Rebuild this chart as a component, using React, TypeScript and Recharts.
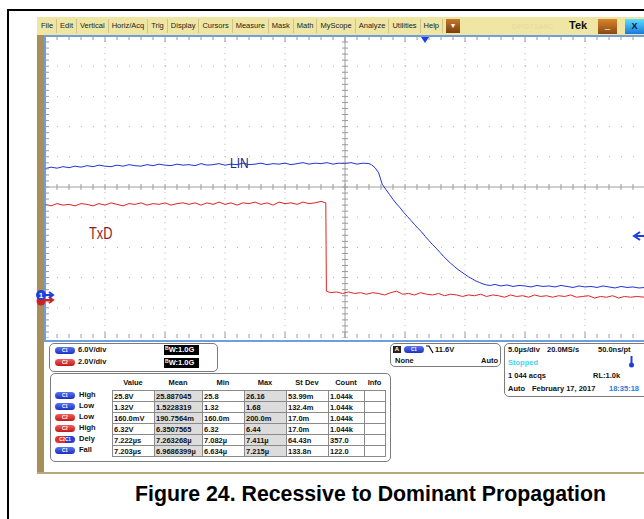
import React from "react";
import { ComposedChart, Line, XAxis, YAxis, ReferenceLine, Scatter } from "recharts";

// LIN (C1) trace, [time µs, volts]
const LIN: [number, number][] = [
  [-25, 25.1], [-24.5, 25.4], [-24, 25.2], [-23.5, 25.5], [-23, 25.3], [-22.5, 25.6], [-22, 25.4], [-21.5, 25.7],
  [-21, 25.5], [-20.5, 25.8], [-20, 25.6], [-19.5, 25.5], [-19, 25.8], [-18.5, 25.6], [-18, 25.9], [-17.5, 25.7],
  [-17, 25.6], [-16.5, 25.9], [-16, 25.7], [-15.5, 26.0], [-15, 25.8], [-14.5, 25.7], [-14, 26.0], [-13.5, 25.8],
  [-13, 25.9], [-12.5, 25.7], [-12, 26.1], [-11.5, 25.8], [-11, 25.9], [-10.5, 26.1], [-10, 25.8], [-9.5, 26.0],
  [-9, 25.9], [-8.5, 26.2], [-8, 25.9], [-7.5, 26.0], [-7, 26.2], [-6.5, 25.9], [-6, 26.1], [-5.5, 26.0],
  [-5, 26.2], [-4.5, 25.9], [-4, 26.1], [-3.5, 26.3], [-3, 26.0], [-2.5, 26.2], [-2, 26.1], [-1.5, 26.3],
  [-1, 26.0], [-0.5, 26.2], [0, 26.1], [0.5, 26.3], [1, 26.0], [1.5, 26.2], [2, 26.1],
  [2.2, 25.9], [2.5, 25.3], [2.8, 24.3], [3.1, 22.0], [3.4, 21.0], [3.7, 20.0], [4.0, 19.0], [4.3, 18.1],
  [4.6, 17.3], [4.9, 16.4], [5.2, 15.6], [5.5, 14.8], [5.8, 14.0], [6.1, 13.2], [6.4, 12.5], [6.7, 11.6],
  [7.0, 10.8], [7.3, 10.0], [7.6, 9.3], [7.9, 8.5], [8.2, 7.7], [8.5, 7.0], [8.8, 6.3], [9.1, 5.7],
  [9.4, 5.1], [9.7, 4.6], [10.0, 4.1], [10.3, 3.6], [10.6, 3.2], [10.9, 2.8], [11.2, 2.5], [11.5, 2.2],
  [11.8, 2.0], [12.1, 1.9], [12.5, 2.1], [13, 1.8], [13.5, 2.0], [14, 1.7], [14.5, 1.9], [15, 1.8],
  [15.5, 1.6], [16, 1.9], [16.5, 1.7], [17, 1.8], [17.5, 1.6], [18, 1.9], [18.5, 1.7], [19, 1.5],
  [19.5, 1.8], [20, 1.6], [20.5, 1.7], [21, 1.5], [21.5, 1.8], [22, 1.6], [22.5, 1.4], [23, 1.7],
  [23.5, 1.5], [24, 1.6], [24.5, 1.4], [25, 1.5],
];

// TxD (C2) trace, [time µs, volts]
const TXD: [number, number][] = [
  [-25, 6.2], [-24.5, 6.1], [-24, 6.25], [-23.5, 6.15], [-23, 6.2], [-22.5, 6.1], [-22, 6.25], [-21.5, 6.2],
  [-21, 6.1], [-20.5, 6.25], [-20, 6.15], [-19.5, 6.3], [-19, 6.2], [-18.5, 6.1], [-18, 6.25], [-17.5, 6.2],
  [-17, 6.3], [-16.5, 6.15], [-16, 6.25], [-15.5, 6.2], [-15, 6.3], [-14.5, 6.15], [-14, 6.25], [-13.5, 6.3],
  [-13, 6.2], [-12.5, 6.3], [-12, 6.15], [-11.5, 6.3], [-11, 6.2], [-10.5, 6.35], [-10, 6.2], [-9.5, 6.3],
  [-9, 6.15], [-8.5, 6.3], [-8, 6.25], [-7.5, 6.35], [-7, 6.2], [-6.5, 6.3], [-6, 6.15], [-5.5, 6.35],
  [-5, 6.25], [-4.5, 6.3], [-4, 6.2], [-3.5, 6.35], [-3, 6.25], [-2.5, 6.3], [-2, 6.4], [-1.6, 6.3],
  [-1.55, 0.45], [-1.2, 0.35], [-0.7, 0.4], [-0.2, 0.3], [0.3, 0.4], [0.8, 0.3], [1.3, 0.35], [1.8, 0.25],
  [2.3, 0.35], [2.8, 0.3], [3.3, 0.2], [3.8, 0.35], [4.3, 0.45], [4.8, 0.25], [5.3, 0.3], [5.8, 0.2],
  [6.3, 0.35], [6.8, 0.25], [7.3, 0.2], [7.8, 0.3], [8.3, 0.15], [8.8, 0.25], [9.3, 0.2], [9.8, 0.1],
  [10.3, 0.2], [10.8, 0.15], [11.3, 0.25], [11.8, 0.1], [12.3, 0.2], [12.8, 0.15], [13.3, 0.05], [13.8, 0.2],
  [14.3, 0.1], [14.8, 0.15], [15.3, 0.05], [15.8, 0.2], [16.3, 0.1], [16.8, 0.15], [17.3, 0.05], [17.8, 0.15],
  [18.3, 0.1], [18.8, 0.2], [19.3, 0.05], [19.8, 0.1], [20.3, 0.15], [20.8, 0.0], [21.3, 0.1], [21.8, 0.05],
  [22.3, 0.15], [22.8, 0.0], [23.3, 0.1], [23.8, 0.05], [24.3, 0.1], [25, 0.05],
];

// graticule: 10 x 10 divisions, 5 µs/div horizontally
const MAJOR_T = [-20, -15, -10, -5, 5, 10, 15, 20];
const MAJOR_DIV = [-4, -3, -2, -1, 1, 2, 3, 4];
const MINOR_T = [
  -25, -24, -23, -22, -21, -20, -19, -18, -17, -16, -15, -14, -13, -12, -11, -10, -9, -8, -7, -6, -5, -4, -3, -2, -1,
  0, 1, 2, 3, 4, 5, 6, 7, 8, 9, 10, 11, 12, 13, 14, 15, 16, 17, 18, 19, 20, 21, 22, 23, 24, 25,
];
const MINOR_DIV = [
  -5, -4.8, -4.6, -4.4, -4.2, -4, -3.8, -3.6, -3.4, -3.2, -3, -2.8, -2.6, -2.4, -2.2, -2, -1.8, -1.6, -1.4, -1.2,
  -1, -0.8, -0.6, -0.4, -0.2, 0, 0.2, 0.4, 0.6, 0.8, 1, 1.2, 1.4, 1.6, 1.8, 2, 2.2, 2.4, 2.6, 2.8, 3, 3.2, 3.4,
  3.6, 3.8, 4, 4.2, 4.4, 4.6, 4.8, 5,
];

const MENU = ["File", "Edit", "Vertical", "Horiz/Acq", "Trig", "Display", "Cursors", "Measure", "Mask", "Math", "MyScope", "Analyze", "Utilities", "Help"];

const HEADERS = ["Value", "Mean", "Min", "Max", "St Dev", "Count", "Info"];
const COL_W = [42, 48, 42, 42, 42, 36, 21];
const ROW_SRC = ["C1", "C1", "C2", "C2", "C2C1", "C1"];
const ROW_LABEL = ["High", "Low", "Low", "High", "Dely", "Fall"];
const ROW_VALUES = [
  ["25.8V", "25.887045", "25.8", "26.16", "53.99m", "1.044k", ""],
  ["1.32V", "1.5228319", "1.32", "1.68", "132.4m", "1.044k", ""],
  ["160.0mV", "190.7564m", "160.0m", "200.0m", "17.0m", "1.044k", ""],
  ["6.32V", "6.3507565", "6.32", "6.44", "17.0m", "1.044k", ""],
  ["7.222µs", "7.263268µ", "7.082µ", "7.411µ", "64.43n", "357.0", ""],
  ["7.203µs", "6.9686399µ", "6.634µ", "7.215µ", "133.8n", "122.0", ""],
];

const linData = LIN.map(([t, v]) => ({ t, v }));
const txdData = TXD.map(([t, v]) => ({ t, v }));

const FONT = "'Liberation Sans', Arial, sans-serif";
const BLUE = "#2233d8";
const RED = "#e02424";

const Pill = ({ src, x, y }: { src: string; x: number; y: number }) => {
  const bg =
    src === "C1"
      ? "linear-gradient(#5a74f0, #1c30c0)"
      : src === "C2"
      ? "linear-gradient(#f06060, #c01818)"
      : "linear-gradient(90deg, #e03030 0%, #e03030 50%, #2a40d0 51%, #2a40d0 100%)";
  return (
    <div
      style={{
        position: "absolute",
        left: x,
        top: y,
        width: 20,
        height: 7,
        borderRadius: 4,
        background: bg,
        color: "#fff",
        fontSize: 4.5,
        lineHeight: "7px",
        textAlign: "center",
        fontWeight: "bold",
      }}
    >
      {src}
    </div>
  );
};

const abs = (left: number, top: number, extra: React.CSSProperties = {}): React.CSSProperties => ({
  position: "absolute",
  left,
  top,
  whiteSpace: "nowrap",
  ...extra,
});

export default function App() {
  const tickV = (len: number) => (p: any) =>
    <line x1={p.cx} y1={p.cy - len} x2={p.cx} y2={p.cy + len} stroke="#9a9a9a" strokeWidth={1} />;
  const tickH = (len: number) => (p: any) =>
    <line x1={p.cx - len} y1={p.cy} x2={p.cx + len} y2={p.cy} stroke="#9a9a9a" strokeWidth={1} />;
  const tickTop = (p: any) => {
    const len = p.payload && p.payload.t % 5 === 0 ? 6 : 4;
    return <line x1={p.cx} y1={p.cy} x2={p.cx} y2={p.cy + len} stroke="#9a9a9a" strokeWidth={1} />;
  };
  const tickBottom = (p: any) => {
    const len = p.payload && p.payload.t % 5 === 0 ? 6 : 4;
    return <line x1={p.cx} y1={p.cy - len} x2={p.cx} y2={p.cy} stroke="#9a9a9a" strokeWidth={1} />;
  };
  const tickLeft = (p: any) => <line x1={p.cx} y1={p.cy} x2={p.cx + 4} y2={p.cy} stroke="#9a9a9a" strokeWidth={1} />;

  const menuText: React.CSSProperties = { fontSize: 7.5, color: "#222" };
  const small: React.CSSProperties = { fontSize: 7.5, fontWeight: "bold", color: "#111" };
  const bwBox: React.CSSProperties = {
    ...small,
    background: "#000",
    color: "#fff",
    width: 34,
    height: 10,
    lineHeight: "10px",
    display: "flex",
    alignItems: "flex-start",
    paddingLeft: 1,
  };

  return (
    <div style={{ position: "absolute", left: 0, top: 0, width: 644, height: 519, overflow: "hidden", background: "#fff", fontFamily: FONT }}>
      {/* outer figure border */}
      <div style={{ position: "absolute", left: 7, top: 9, width: 700, height: 600, borderLeft: "2px solid #000", borderTop: "2px solid #000" }} />

      {/* scope frame */}
      <div style={{ position: "absolute", left: 37, top: 17, width: 620, height: 18, background: "#efe6a4" }} />
      <div style={{ position: "absolute", left: 37, top: 35, width: 7, height: 439, background: "#a88e58" }} />
      <div style={{ position: "absolute", left: 37, top: 472, width: 620, height: 2, background: "#b9a977" }} />

      {/* menu */}
      <div style={{ position: "absolute", left: 38, top: 19, height: 14, display: "flex", alignItems: "center" }}>
        {MENU.map((m) => (
          <div key={m} style={{ ...menuText, padding: "0 3px", lineHeight: "14px", borderRight: "1px solid #cfc38a" }}>
            {m}
          </div>
        ))}
        <div style={{ width: 14, height: 14, marginLeft: 3, background: "linear-gradient(#c77a2e, #7a3e0c)", color: "#fff", fontSize: 8, textAlign: "center", lineHeight: "13px" }}>▾</div>
      </div>
      <div style={abs(512, 22, { fontSize: 8, color: "#e8dd9c", fontWeight: "bold" })}>DPO7104C</div>
      <div style={abs(569, 19, { fontSize: 11, fontWeight: "bold", color: "#111" })}>Tek</div>
      <div style={{ position: "absolute", left: 598, top: 19, width: 19, height: 15, background: "linear-gradient(#d8862e, #8a4810)", color: "#fff", fontSize: 9, textAlign: "center", lineHeight: "13px" }}>_</div>
      <div style={{ position: "absolute", left: 625, top: 19, width: 19, height: 15, background: "linear-gradient(#5ae0ff, #1a78d8)", color: "#113", fontSize: 9, fontWeight: "bold", textAlign: "center", lineHeight: "15px" }}>X</div>

      {/* plot border */}
      <div style={{ position: "absolute", left: 44, top: 35, width: 610, height: 303, borderLeft: "2px solid #6f9ee0", borderTop: "2px solid #6f9ee0", borderBottom: "2px solid #6f9ee0" }} />

      <div style={{ position: "absolute", left: 45, top: 36 }}>
        <ComposedChart width={600} height={302} margin={{ top: 0, right: 0, bottom: 0, left: 0 }}>
          <XAxis xAxisId="t" dataKey="t" type="number" domain={[-25, 25]} hide allowDataOverflow />
          <YAxis yAxisId="g" type="number" domain={[-5, 5]} hide allowDataOverflow />
          <YAxis yAxisId="c1" type="number" domain={[-8.54, 51.46]} hide allowDataOverflow />
          <YAxis yAxisId="c2" type="number" domain={[-2.65, 17.35]} hide allowDataOverflow />

          {MAJOR_T.map((t) => (
            <ReferenceLine key={"vt" + t} xAxisId="t" yAxisId="g" x={t} stroke="#b4b4b4" strokeDasharray="1 5.04" />
          ))}
          {MAJOR_DIV.map((d) => (
            <ReferenceLine key={"hd" + d} xAxisId="t" yAxisId="g" y={d} stroke="#b4b4b4" strokeDasharray="1 11" />
          ))}
          <ReferenceLine xAxisId="t" yAxisId="g" x={0} stroke="#a0a0a0" />
          <ReferenceLine xAxisId="t" yAxisId="g" y={0} stroke="#a0a0a0" />

          <Scatter xAxisId="t" yAxisId="g" data={MINOR_T.map((t) => ({ t, g: 0 }))} dataKey="g" shape={tickV(3)} isAnimationActive={false} />
          <Scatter xAxisId="t" yAxisId="g" data={MINOR_DIV.map((g) => ({ t: 0, g }))} dataKey="g" shape={tickH(3)} isAnimationActive={false} />
          <Scatter xAxisId="t" yAxisId="g" data={MINOR_T.map((t) => ({ t, g: 5 }))} dataKey="g" shape={tickTop} isAnimationActive={false} />
          <Scatter xAxisId="t" yAxisId="g" data={MINOR_T.map((t) => ({ t, g: -5 }))} dataKey="g" shape={tickBottom} isAnimationActive={false} />
          <Scatter xAxisId="t" yAxisId="g" data={MINOR_DIV.map((g) => ({ t: -25, g }))} dataKey="g" shape={tickLeft} isAnimationActive={false} />

          <Line xAxisId="t" yAxisId="c2" data={txdData} dataKey="v" type="linear" stroke={RED} strokeWidth={1} dot={false} isAnimationActive={false} />
          <Line xAxisId="t" yAxisId="c1" data={linData} dataKey="v" type="linear" stroke={BLUE} strokeWidth={1} dot={false} isAnimationActive={false} />
        </ComposedChart>
      </div>

      {/* trace labels */}
      <div style={abs(230, 154, { fontSize: 15, color: "#1e2a8c", transform: "scaleX(0.8)", transformOrigin: "left top" })}>LIN</div>
      <div style={abs(89, 225, { fontSize: 16, color: "#8e1c1c", transform: "scaleX(0.8)", transformOrigin: "left top" })}>TxD</div>

      {/* markers */}
      <svg style={{ position: "absolute", left: 0, top: 0 }} width={644} height={519}>
        <path d="M421,37 L429,37 L425,43 Z" fill="#1f3ee0" />
        <path d="M644,236 L636,236 M640,232 L634,236 L640,240" stroke="#1f3ee0" strokeWidth={2} fill="none" />
        <path d="M44,300 L52,300 M49,297 L53,300 L49,303" stroke="#d02020" strokeWidth={2} fill="none" />
        <circle cx={41} cy={301} r={4.5} fill="#d02020" />
        <path d="M44,295 L52,295 M49,292 L53,295 L49,298" stroke="#1f3ee0" strokeWidth={2} fill="none" />
        <circle cx={41} cy={295} r={5} fill="#1f3ee0" />
        <text x={41} y={298} fontSize={8} fontWeight="bold" fill="#fff" textAnchor="middle" fontFamily={FONT}>1</text>
      </svg>

      {/* channel panel */}
      <div style={{ position: "absolute", left: 49, top: 343, width: 167, height: 27, border: "1px solid #7c7c7c", borderRadius: 5 }} />
      <Pill src="C1" x={55} y={347} />
      <div style={abs(78, 345, small)}>6.0V/div</div>
      <Pill src="C2" x={55} y={359} />
      <div style={abs(78, 357, small)}>2.0V/div</div>
      <div style={abs(164, 345, bwBox)}>
        <span style={{ fontSize: 5, lineHeight: "6px" }}>B</span>
        <span>W:1.0G</span>
      </div>
      <div style={abs(164, 358, bwBox)}>
        <span style={{ fontSize: 5, lineHeight: "6px" }}>B</span>
        <span>W:1.0G</span>
      </div>

      {/* measurement panel */}
      <div style={{ position: "absolute", left: 50, top: 373, width: 339, height: 87, border: "1px solid #7c7c7c", borderRadius: 5 }} />
      {HEADERS.map((h, i) => {
        const left = 112 + COL_W.slice(0, i).reduce((a, b) => a + b, 0);
        return (
          <div key={h} style={abs(left, 378, { ...small, width: COL_W[i], textAlign: "center" })}>
            {h}
          </div>
        );
      })}
      <table style={{ position: "absolute", left: 112, top: 390, borderCollapse: "collapse", tableLayout: "fixed" }}>
        <tbody>
          {ROW_VALUES.map((row, r) => (
            <tr key={r} style={{ height: 11 }}>
              {row.map((cell, c) => (
                <td
                  key={c}
                  style={{
                    width: COL_W[c] - 3,
                    border: "1px solid #8a8a8a",
                    padding: "0 1px",
                    background: c === 1 || c === 3 ? "#dcdcdc" : "#fff",
                    fontSize: 7.5,
                    fontWeight: "bold",
                    color: "#111",
                    lineHeight: "9px",
                    height: 9,
                    whiteSpace: "nowrap",
                    overflow: "hidden",
                  }}
                >
                  {cell}
                </td>
              ))}
            </tr>
          ))}
        </tbody>
      </table>
      {ROW_LABEL.map((l, r) => (
        <React.Fragment key={r}>
          <Pill src={ROW_SRC[r]} x={55} y={392 + r * 11} />
          <div style={abs(79, 390 + r * 11, small)}>{l}</div>
        </React.Fragment>
      ))}

      {/* trigger panel */}
      <div style={{ position: "absolute", left: 390, top: 343, width: 109, height: 22, border: "1px solid #7c7c7c", borderRadius: 5 }} />
      <div style={abs(393, 346, { width: 8, height: 7, background: "#222", color: "#fff", fontSize: 6, lineHeight: "7px", textAlign: "center", fontWeight: "bold" })}>A</div>
      <Pill src="C1" x={404} y={346} />
      <svg style={{ position: "absolute", left: 426, top: 345 }} width={8} height={9}>
        <path d="M0,1 L3,1 L7,8" stroke="#111" strokeWidth={1.2} fill="none" />
      </svg>
      <div style={abs(435, 345, small)}>11.6V</div>
      <div style={abs(395, 356, small)}>None</div>
      <div style={abs(481, 356, small)}>Auto</div>

      {/* horizontal panel */}
      <div style={{ position: "absolute", left: 504, top: 343, width: 160, height: 52, border: "1px solid #7c7c7c", borderRadius: 5 }} />
      <div style={abs(508, 345, small)}>5.0µs/div</div>
      <div style={abs(547, 345, small)}>20.0MS/s</div>
      <div style={abs(598, 345, small)}>50.0ns/pt</div>
      <div style={abs(508, 358, { ...small, color: "#3fd6f0" })}>Stopped</div>
      <svg style={{ position: "absolute", left: 628, top: 356 }} width={7} height={12}>
        <path d="M3.5,0 L3.5,8" stroke="#1f3ee0" strokeWidth={2} />
        <circle cx={3.5} cy={9} r={2.5} fill="#1f3ee0" />
      </svg>
      <div style={abs(508, 371, small)}>1 044 acqs</div>
      <div style={abs(593, 371, small)}>RL:1.0k</div>
      <div style={abs(508, 384, small)}>Auto</div>
      <div style={abs(532, 384, small)}>February 17, 2017</div>
      <div style={abs(609, 384, { ...small, color: "#2a7ae0" })}>18:35:18</div>

      {/* caption */}
      <div style={abs(135, 482, { fontSize: 21.3, fontWeight: "bold", color: "#000" })}>
        Figure 24. Recessive to Dominant Propagation
      </div>
    </div>
  );
}
